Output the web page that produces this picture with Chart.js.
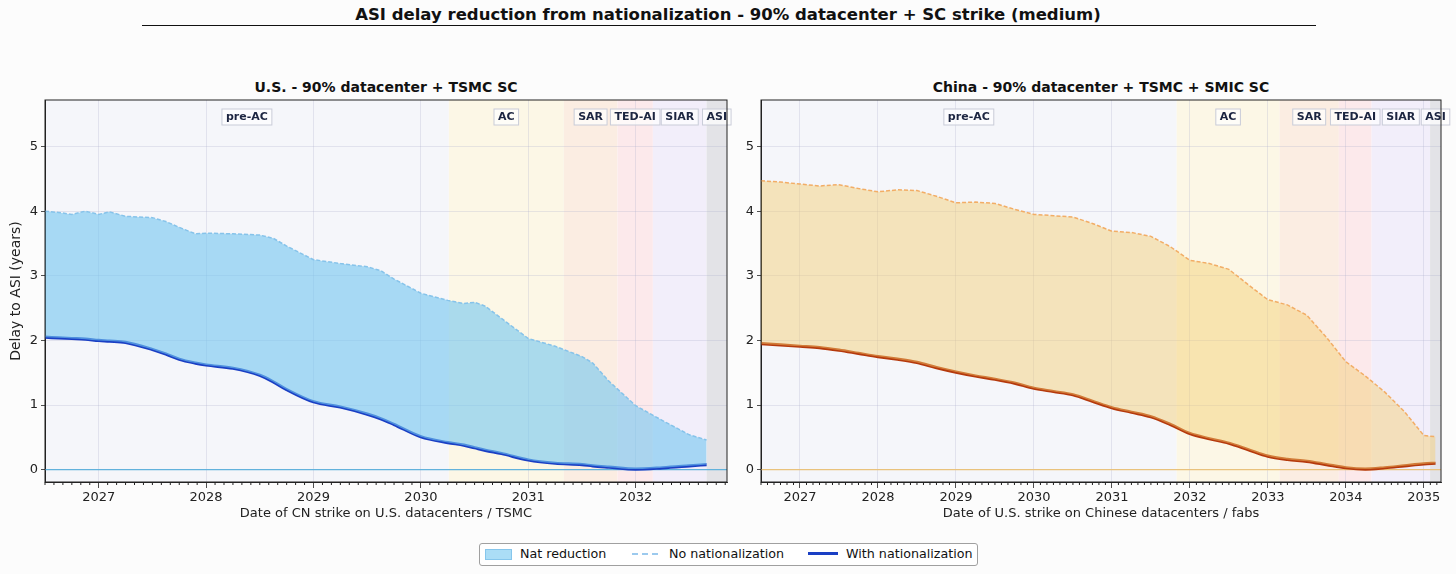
<!DOCTYPE html>
<html>
<head>
<meta charset="utf-8">
<title>ASI delay reduction from nationalization</title>
<script src="https://cdn.jsdelivr.net/npm/chart.js@4.4.1/dist/chart.umd.min.js"></script>
<style>
  html, body { margin: 0; padding: 0; background: #fcfcfc; }
  body { width: 1456px; height: 574px; position: relative; overflow: hidden;
         font-family: "DejaVu Sans", sans-serif; color: #111; }
  #title { position: absolute; left: 0; top: 5px; width: 1456px; text-align: center;
           font-weight: bold; font-size: 16.5px; }
  #rule { position: absolute; left: 142px; top: 25px; width: 1174px; border-top: 1.5px solid #111; }
  .sub { position: absolute; top: 79px; font-weight: bold; font-size: 14px; text-align: center; }
  canvas { position: absolute; top: 70px; }
  #legend { position: absolute; left: 479px; top: 543px; width: 497px; height: 21px;
            border: 1px solid #a0a0a0; border-radius: 3px; background: #fff; font-size: 12.7px; }
  #legend span { position: absolute; }
  .lt { top: 2px; line-height: 16px; white-space: nowrap; }
</style>
</head>
<body>
<div id="title">ASI delay reduction from nationalization - 90% datacenter + SC strike (medium)</div>
<div id="rule"></div>
<div class="sub" style="left:45px;width:682px">U.S. - 90% datacenter + TSMC SC</div>
<div class="sub" style="left:761px;width:680px">China - 90% datacenter + TSMC + SMIC SC</div>
<canvas id="usChart" width="735" height="460" style="left:0;width:735px;height:460px"></canvas>
<canvas id="cnChart" width="721" height="460" style="left:735px;width:721px;height:460px"></canvas>
<div id="legend">
  <span style="left:5px;top:5px;width:25px;height:9px;background:rgba(115,198,240,0.6);border:1px solid #86c6ec"></span>
  <span class="lt" style="left:40px">Nat reduction</span>
  <span style="left:152px;top:9px;width:26px;border-top:2px dashed #9ccaee"></span>
  <span class="lt" style="left:189px">No nationalization</span>
  <span style="left:328px;top:8px;width:30px;border-top:3px solid #1a3fc4"></span>
  <span class="lt" style="left:366px">With nationalization</span>
</div>
<script>
// Delay to ASI (years) vs. strike date
const usYears = [2026.5, 2026.625, 2026.75, 2026.875, 2027, 2027.1, 2027.25, 2027.5, 2027.625, 2027.75,
                 2027.9, 2028, 2028.25, 2028.5, 2028.625, 2028.75, 2029, 2029.25, 2029.5, 2029.625,
                 2029.75, 2030, 2030.25, 2030.4, 2030.5, 2030.6, 2030.75, 2031, 2031.25, 2031.5,
                 2031.6, 2031.75, 2032, 2032.25, 2032.5, 2032.66];
const usNoNat = [4.00, 3.98, 3.95, 4.00, 3.95, 3.99, 3.92, 3.90, 3.84, 3.75,
                 3.65, 3.66, 3.65, 3.63, 3.58, 3.46, 3.25, 3.19, 3.14, 3.08,
                 2.95, 2.73, 2.62, 2.57, 2.59, 2.53, 2.34, 2.03, 1.91, 1.75,
                 1.65, 1.37, 0.99, 0.76, 0.54, 0.46];
const usWithNat = [2.05, 2.04, 2.03, 2.02, 2.00, 1.99, 1.97, 1.86, 1.79, 1.71,
                   1.65, 1.62, 1.57, 1.46, 1.36, 1.24, 1.05, 0.97, 0.86, 0.79,
                   0.70, 0.51, 0.42, 0.38, 0.34, 0.30, 0.25, 0.15, 0.10, 0.08,
                   0.06, 0.04, 0.01, 0.03, 0.06, 0.08];

const cnYears = [2026.5, 2026.75, 2027, 2027.25, 2027.5, 2027.75, 2028, 2028.25, 2028.5, 2028.75,
                 2029, 2029.25, 2029.5, 2029.75, 2030, 2030.25, 2030.5, 2030.75, 2031, 2031.25,
                 2031.5, 2031.75, 2032, 2032.25, 2032.5, 2032.75, 2033, 2033.25, 2033.5, 2033.75,
                 2034, 2034.25, 2034.5, 2034.75, 2035, 2035.15];
const cnNoNat = [4.47, 4.45, 4.42, 4.39, 4.41, 4.35, 4.30, 4.33, 4.32, 4.23,
                 4.13, 4.14, 4.12, 4.03, 3.95, 3.93, 3.91, 3.81, 3.69, 3.67,
                 3.61, 3.45, 3.24, 3.19, 3.10, 2.86, 2.63, 2.55, 2.39, 2.05,
                 1.67, 1.45, 1.20, 0.90, 0.53, 0.51];
const cnWithNat = [1.95, 1.93, 1.91, 1.89, 1.85, 1.80, 1.75, 1.71, 1.66, 1.58,
                   1.51, 1.45, 1.40, 1.34, 1.26, 1.21, 1.16, 1.06, 0.96, 0.89,
                   0.82, 0.70, 0.56, 0.48, 0.41, 0.31, 0.21, 0.16, 0.13, 0.08,
                   0.03, 0.01, 0.03, 0.06, 0.09, 0.10];

// Capability phases and where each one starts (last entry = right edge of axis)
const bandNames = ['pre-AC', 'AC', 'SAR', 'TED-AI', 'SIAR', 'ASI'];
const usBandEdges = [2026.5, 2030.26, 2031.33, 2031.83, 2032.16, 2032.66, 2032.85];
const cnBandEdges = [2026.5, 2031.83, 2033.15, 2033.91, 2034.33, 2035.08, 2035.22];

const usYearTicks = [2027, 2028, 2029, 2030, 2031, 2032];
const cnYearTicks = [2027, 2028, 2029, 2030, 2031, 2032, 2033, 2034, 2035];
const delayTicks = [0, 1, 2, 3, 4, 5];

(function () {
    'use strict';

    const BAND_COLORS = ['#f5f6fa', '#fcf7e6', '#fbede2', '#fce9eb', '#f2eefa', '#e3e3e7'];
    const GRID = 'rgba(170,175,205,0.35)';
    const INK = '#222';

    Chart.defaults.font.family = '"DejaVu Sans", sans-serif';
    Chart.defaults.color = INK;

    // phase shading, zero line, phase labels, frame and monthly minor ticks
    const phasePlugin = {
        id: 'phases',
        beforeDraw(chart, args, opts) {
            const { ctx, chartArea: a, scales: { x } } = chart;
            ctx.save();
            for (let i = 0; i < bandNames.length; i++) {
                const x0 = Math.max(a.left, x.getPixelForValue(opts.edges[i]));
                const x1 = Math.min(a.right, x.getPixelForValue(opts.edges[i + 1]));
                ctx.fillStyle = BAND_COLORS[i];
                ctx.fillRect(x0, a.top, x1 - x0, a.bottom - a.top);
            }
            ctx.restore();
        },
        beforeDatasetsDraw(chart, args, opts) {
            const { ctx, chartArea: a, scales: { y } } = chart;
            const y0 = y.getPixelForValue(0);
            ctx.save();
            ctx.strokeStyle = opts.zeroColor;
            ctx.lineWidth = 1.2;
            ctx.beginPath();
            ctx.moveTo(a.left, y0);
            ctx.lineTo(a.right, y0);
            ctx.stroke();
            ctx.restore();
        },
        afterDatasetsDraw(chart, args, opts) {
            const { ctx, chartArea: a, scales: { x } } = chart;
            ctx.save();
            ctx.font = 'bold 11px "DejaVu Sans"';
            ctx.textAlign = 'center';
            ctx.textBaseline = 'middle';
            const cy = a.top + 17;
            for (let i = 0; i < bandNames.length; i++) {
                const x0 = Math.max(a.left, x.getPixelForValue(opts.edges[i]));
                const x1 = Math.min(a.right, x.getPixelForValue(opts.edges[i + 1]));
                const cx = (x0 + x1) / 2;
                const w = ctx.measureText(bandNames[i]).width + 8;
                ctx.fillStyle = 'rgba(255,255,255,0.7)';
                ctx.fillRect(cx - w / 2, cy - 8, w, 16);
                ctx.strokeStyle = '#c9ccd8';
                ctx.lineWidth = 1;
                ctx.strokeRect(cx - w / 2, cy - 8, w, 16);
                ctx.fillStyle = '#1c2541';
                ctx.fillText(bandNames[i], cx, cy + 0.5);
            }
            ctx.restore();
        },
        afterDraw(chart) {
            const { ctx, chartArea: a, scales: { x } } = chart;
            ctx.save();
            ctx.strokeStyle = INK;
            ctx.lineWidth = 1;
            ctx.strokeRect(a.left, a.top, a.right - a.left, a.bottom - a.top);
            ctx.beginPath();
            for (let m = Math.ceil(x.min * 12); m <= Math.floor(x.max * 12); m++) {
                if (m % 12 === 0) continue;
                const px = x.getPixelForValue(m / 12);
                ctx.moveTo(px, a.bottom);
                ctx.lineTo(px, a.bottom + 3);
            }
            ctx.stroke();
            ctx.restore();
        }
    };

    const pts = (xs, ys) => xs.map((v, i) => ({ x: v, y: ys[i] }));

    function makePanel(id, p) {
        const yScale = {
            min: -0.19, max: 5.72,
            afterBuildTicks: s => { s.ticks = delayTicks.map(v => ({ value: v })); },
            ticks: { font: { size: 13 }, color: INK, padding: 3 },
            grid: { color: GRID, tickColor: INK, tickLength: 4, lineWidth: 0.8 },
            border: { display: true, color: INK, width: 1 },
            title: { display: !!p.yTitle, text: p.yTitle, font: { size: 14 }, color: INK, padding: { top: 8, bottom: 0 } },
            afterFit: s => { s.width = p.yWidth; }
        };
        return new Chart(document.getElementById(id), {
            type: 'line',
            data: {
                datasets: [
                    { label: 'No nationalization', data: pts(p.years, p.noNat), borderColor: p.dash,
                      borderWidth: 1.5, borderDash: [4, 2], pointRadius: 0, tension: 0,
                      fill: '+1', backgroundColor: p.fill },
                    { label: 'With nationalization', data: pts(p.years, p.withNat), borderColor: p.line,
                      borderWidth: 3.2, pointRadius: 0, fill: false, cubicInterpolationMode: 'monotone' }
                ]
            },
            options: {
                responsive: false,
                animation: false,
                events: [],
                layout: { autoPadding: false, padding: { left: 0, right: p.rightPad, top: 30, bottom: 0 } },
                plugins: {
                    legend: { display: false },
                    tooltip: { enabled: false },
                    phases: { edges: p.edges, zeroColor: p.zero }
                },
                scales: {
                    x: {
                        type: 'linear', min: p.xMin, max: p.xMax,
                        afterBuildTicks: s => { s.ticks = p.ticks.map(v => ({ value: v })); },
                        ticks: { callback: v => String(v), font: { size: 13 }, color: INK, maxRotation: 0, autoSkip: false, padding: 2 },
                        grid: { color: GRID, tickColor: INK, tickLength: 6, lineWidth: 0.8 },
                        border: { display: true, color: INK, width: 1 },
                        title: { display: true, text: p.xTitle, font: { size: 13 }, color: INK, padding: { top: 0, bottom: 9 } },
                        afterFit: s => { s.height = 48; }
                    },
                    y: yScale
                }
            },
            plugins: [phasePlugin]
        });
    }

    function init() {
        makePanel('usChart', {
            years: usYears, noNat: usNoNat, withNat: usWithNat, edges: usBandEdges, ticks: usYearTicks,
            xMin: 2026.5, xMax: 2032.85, yWidth: 45, rightPad: 8,
            yTitle: 'Delay to ASI (years)', xTitle: 'Date of CN strike on U.S. datacenters / TSMC',
            dash: '#86c3ea', line: '#1a3fc4', fill: 'rgba(115,198,240,0.6)', zero: '#62b2dc'
        });
        makePanel('cnChart', {
            years: cnYears, noNat: cnNoNat, withNat: cnWithNat, edges: cnBandEdges, ticks: cnYearTicks,
            xMin: 2026.5, xMax: 2035.22, yWidth: 26, rightPad: 15,
            yTitle: '', xTitle: 'Date of U.S. strike on Chinese datacenters / fabs',
            dash: '#f2ad66', line: '#b5390c', fill: 'rgba(245,205,110,0.45)', zero: '#e9c27c'
        });
    }
    if (document.readyState === 'loading') {
        document.addEventListener('DOMContentLoaded', init);
    } else {
        init();
    }
})();
</script>
</body>
</html>
